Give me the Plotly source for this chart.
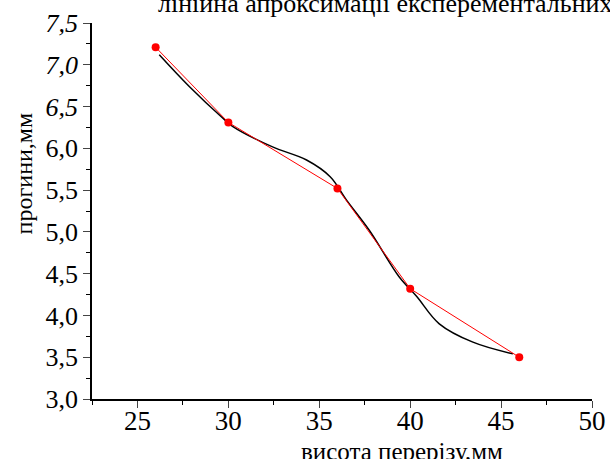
import plotly.graph_objects as go

# Red: linear approximation points
fit_x = [26, 30, 36, 40, 46]
fit_y = [7.21, 6.31, 5.52, 4.32, 3.50]

exp_x = [26.2, 27.85, 29.7, 30.25, 32.4, 34.3, 35.6, 36.5, 37.75, 39.4, 40.35, 41.6, 43.45, 45.65]
exp_y = [7.12, 6.74, 6.36, 6.26, 6.02, 5.86, 5.66, 5.38, 5.02, 4.46, 4.23, 3.90, 3.68, 3.54]

x_ticks = [25, 30, 35, 40, 45, 50]
y_ticks = [3.0, 3.5, 4.0, 4.5, 5.0, 5.5, 6.0, 6.5, 7.0, 7.5]
y_labels = ["3,0", "3,5", "4,0", "4,5", "5,0", "5,5", "6,0", "<i>6,5</i>", "<i>7,0</i>", "<i>7,5</i>"]

title_text = "лінійна апроксимації експерементальних"
x_title = "висота перерізу,мм"
y_title = "прогини,мм"

serif = "Times New Roman, Liberation Serif, serif"

fig = go.Figure()
fig.add_trace(go.Scatter(x=exp_x, y=exp_y, mode="lines",
                         line=dict(color="black", width=1.5, shape="spline"),
                         showlegend=False))
fig.add_trace(go.Scatter(x=fit_x, y=fit_y, mode="lines+markers",
                         line=dict(color="red", width=1),
                         marker=dict(color="red", size=8),
                         showlegend=False))

fig.update_layout(
    width=610, height=459,
    margin=dict(l=92, r=18, t=23, b=60),
    paper_bgcolor="white", plot_bgcolor="white",
    font=dict(family=serif, color="black"),
    xaxis=dict(range=[22.5, 50], tickvals=x_ticks, ticks="outside", ticklen=7, tickwidth=1.2,
               showline=True, linecolor="black", linewidth=1.5, showgrid=False, zeroline=False,
               tickfont=dict(size=27, family=serif), automargin=False, ticklabelstandoff=-10,
               minor=dict(dtick=2.5, tick0=0, ticks="outside", ticklen=4, tickcolor="black")),
    yaxis=dict(range=[3.0, 7.5], tickvals=y_ticks, ticktext=y_labels, ticks="outside", ticklen=7,
               tickwidth=1.2, showline=True, linecolor="black", linewidth=1.5, showgrid=False,
               zeroline=False, tickfont=dict(size=26, family=serif), automargin=False,
               minor=dict(dtick=0.25, tick0=0, ticks="outside", ticklen=4, tickcolor="black")),
)

fig.add_annotation(text=x_title, xref="paper", yref="paper", x=0.62, y=0, yshift=-52,
                   xanchor="center", yanchor="middle", showarrow=False,
                   font=dict(size=25, family=serif, color="black"))
fig.add_annotation(text=y_title, xref="paper", yref="paper", x=0, xshift=-68, y=0.6,
                   xanchor="center", yanchor="middle", textangle=-90, showarrow=False,
                   font=dict(size=24, family=serif, color="black"))
fig.add_annotation(text=title_text, xref="paper", yref="paper", x=0, xshift=64, y=1, yshift=20,
                   xanchor="left", yanchor="middle", showarrow=False,
                   font=dict(size=26, family=serif, color="black"))

fig.write_html("out.html", config={"displayModeBar": False},
               post_script="document.body.style.margin='0';")
